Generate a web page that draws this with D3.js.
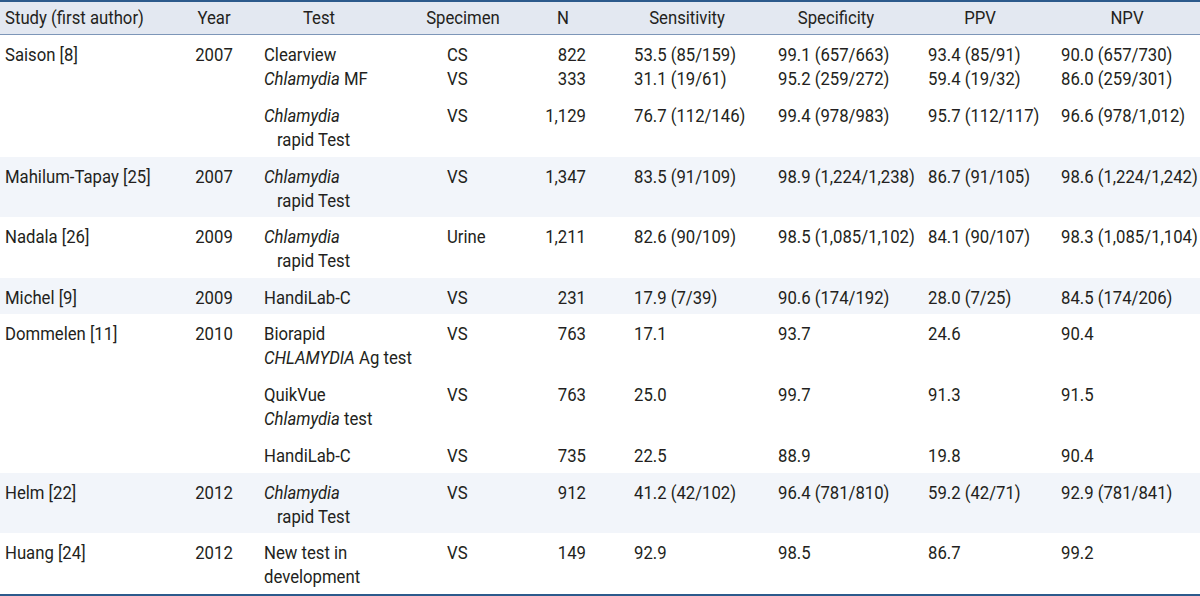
<!DOCTYPE html>
<html><head><meta charset="utf-8">
<script src="https://cdn.jsdelivr.net/npm/d3@7"></script>
<style>
html,body{margin:0;padding:0;background:#fff;}
svg text{font-family:Roboto,"Noto Sans",sans-serif;font-size:19px;fill:#231f20;white-space:pre;}
</style></head>
<body><svg id="t" width="1200" height="596"></svg>
<script>
// ---------- data ----------
const headers = ["Study (first author)","Year","Test","Specimen","N","Sensitivity","Specificity","PPV","NPV"];
const studies = ["Saison [8]","Mahilum-Tapay [25]","Nadala [26]","Michel [9]","Dommelen [11]","Helm [22]","Huang [24]"];
const years = ["2007","2007","2009","2009","2010","2012","2012"];
// each sub-row belongs to a study (index into studies)
const subRowStudy = [0,0,1,2,3,4,4,4,5,6];
// *...* marks italic; leading "  " marks an indented continuation line
const tests = [
  ["Clearview","*Chlamydia* MF"],
  ["*Chlamydia*","  rapid Test"],
  ["*Chlamydia*","  rapid Test"],
  ["*Chlamydia*","  rapid Test"],
  ["HandiLab-C"],
  ["Biorapid","*CHLAMYDIA* Ag test"],
  ["QuikVue","*Chlamydia* test"],
  ["HandiLab-C"],
  ["*Chlamydia*","  rapid Test"],
  ["New test in","development"]
];
const specimens = [["CS","VS"],["VS"],["VS"],["Urine"],["VS"],["VS"],["VS"],["VS"],["VS"],["VS"]];
const nValues = [["822","333"],["1,129"],["1,347"],["1,211"],["231"],["763"],["763"],["735"],["912"],["149"]];
const sensitivity = [["53.5 (85/159)","31.1 (19/61)"],["76.7 (112/146)"],["83.5 (91/109)"],["82.6 (90/109)"],["17.9 (7/39)"],["17.1"],["25.0"],["22.5"],["41.2 (42/102)"],["92.9"]];
const specificity = [["99.1 (657/663)","95.2 (259/272)"],["99.4 (978/983)"],["98.9 (1,224/1,238)"],["98.5 (1,085/1,102)"],["90.6 (174/192)"],["93.7"],["99.7"],["88.9"],["96.4 (781/810)"],["98.5"]];
const ppv = [["93.4 (85/91)","59.4 (19/32)"],["95.7 (112/117)"],["86.7 (91/105)"],["84.1 (90/107)"],["28.0 (7/25)"],["24.6"],["91.3"],["19.8"],["59.2 (42/71)"],["86.7"]];
const npv = [["90.0 (657/730)","86.0 (259/301)"],["96.6 (978/1,012)"],["98.6 (1,224/1,242)"],["98.3 (1,085/1,104)"],["84.5 (174/206)"],["90.4"],["91.5"],["90.4"],["92.9 (781/841)"],["99.2"]];

// ---------- layout ----------
const W = 1200, HEADER_H = 35, TOP = 19.5, BOTTOM = 17, LINE = 24, SUBGAP = 37, SX = 0.88;
const colors = {header:"#e3e8f1", band:"#f2f5fa", rule:"#2c5a8c", headRule:"#7d96b8"};
const colBody = [[5,"start"],[214,"middle"],[264,"start"],[447,"start"],[586,"end"],[634,"start"],[778,"start"],[928,"start"],[1061,"start"]];
const colHead = [[5,"start"],[214,"middle"],[319,"middle"],[463,"middle"],[563,"middle"],[687,"middle"],[836,"middle"],[980,"middle"],[1127,"middle"]];
const INDENT = 13;

const svg = d3.select("#t");

const subLines = subRowStudy.map((s,i)=>Math.max(tests[i].length, specimens[i].length, nValues[i].length, sensitivity[i].length));
const subY = []; const rowTop = []; const rowBottom = [];
let y = HEADER_H;
studies.forEach((st, r) => {
  rowTop[r] = y;
  let cy = y + TOP, first = true;
  subRowStudy.forEach((s,i)=>{
    if (s !== r) return;
    if (!first) cy += SUBGAP;
    subY[i] = cy;
    cy += (subLines[i]-1)*LINE;
    first = false;
  });
  y = cy + BOTTOM;
  rowBottom[r] = y;
});

svg.append("g").selectAll("rect").data(studies).join("rect")
  .attr("x",0).attr("width",W)
  .attr("y",(d,i)=>Math.round(rowTop[i])).attr("height",(d,i)=>Math.round(rowBottom[i])-Math.round(rowTop[i]))
  .attr("fill",(d,i)=> i%2===1 ? colors.band : "#fff");

svg.append("rect").attr("x",0).attr("y",0).attr("width",W).attr("height",HEADER_H).attr("fill",colors.header);
svg.append("line").attr("x1",0).attr("x2",W).attr("y1",1).attr("y2",1).attr("stroke",colors.rule).attr("stroke-width",2);
svg.append("line").attr("x1",0).attr("x2",W).attr("y1",HEADER_H-0.5).attr("y2",HEADER_H-0.5).attr("stroke",colors.headRule).attr("stroke-width",1);
const lastB = Math.round(rowBottom[studies.length-1]);
svg.append("line").attr("x1",0).attr("x2",W).attr("y1",lastB+1).attr("y2",lastB+1).attr("stroke",colors.rule).attr("stroke-width",2);

function place(sel, xf, yf){
  sel.attr("x",0).attr("y",0).attr("dy","0.35em")
     .attr("transform",(d,i)=>`translate(${xf(d,i)},${yf(d,i)}) scale(${SX},1)`);
}
function addRich(sel, str){
  str.split("*").forEach((p,k)=>{ if(p.length) sel.append("tspan").attr("font-style", k%2===1 ? "italic":"normal").text(p); });
}

svg.append("g").selectAll("text").data(headers).join("text")
  .call(place,(d,i)=>colHead[i][0],()=>HEADER_H/2)
  .attr("text-anchor",(d,i)=>colHead[i][1]).text(d=>d);

const body = svg.append("g");
body.selectAll("text.study").data(studies).join("text").attr("class","study")
  .call(place,()=>colBody[0][0],(d,i)=>rowTop[i]+TOP)
  .attr("text-anchor",colBody[0][1]).text(d=>d);
body.selectAll("text.year").data(years).join("text").attr("class","year")
  .call(place,()=>colBody[1][0],(d,i)=>rowTop[i]+TOP)
  .attr("text-anchor",colBody[1][1]).text(d=>d);

const subCols = [tests, specimens, nValues, sensitivity, specificity, ppv, npv];
subCols.forEach((col, c) => {
  const [cx, anchor] = colBody[c+2];
  const cells = [];
  col.forEach((lines,i)=> lines.forEach((ln,l)=> cells.push({ln, y: subY[i] + l*LINE})));
  body.append("g").selectAll("text").data(cells).join("text")
    .call(place, d => cx + (d.ln.startsWith("  ") ? INDENT : 0), d => d.y)
    .attr("text-anchor",anchor)
    .each(function(d){ addRich(d3.select(this), d.ln.replace(/^  /,"")); });
});
</script></body></html>
